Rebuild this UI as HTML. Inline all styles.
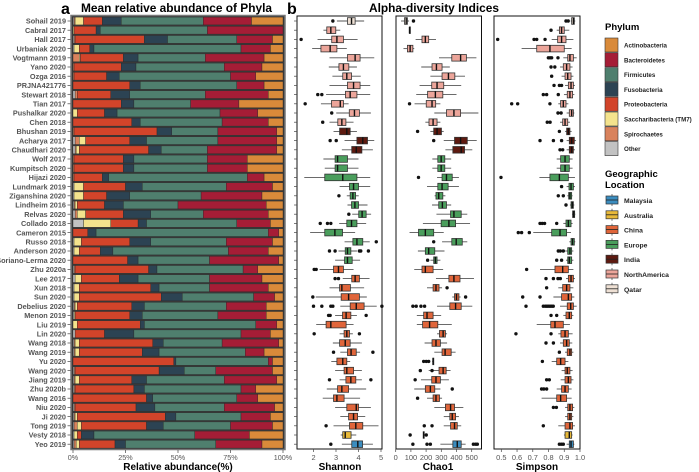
<!DOCTYPE html>
<html><head><meta charset="utf-8">
<style>
html,body{margin:0;padding:0;background:#fff;}
svg{display:block;font-family:"Liberation Sans",sans-serif;}
</style></head>
<body>
<svg id="chart" width="699" height="472" viewBox="0 0 699 472" xmlns="http://www.w3.org/2000/svg"></svg>
<script>
const studies=["Sohail 2019","Cabral 2017","Hall 2017","Urbaniak 2020","Vogtmann 2019","Yano 2020","Ozga 2016","PRJNA421776","Stewart 2018","Tian 2017","Pushalkar 2020","Chen 2018","Bhushan 2019","Acharya 2017","Chaudhari 2020","Wolf 2017","Kumpitsch 2020","Hijazi 2020","Lundmark 2019","Ziganshina 2020","Lindheim 2016","Relvas 2020","Collado 2018","Cameron 2015","Russo 2018","Anderson 2020","Soriano-Lerma 2020","Zhu 2020a","Lee 2017","Xun 2018","Sun 2020","Debelius 2020","Menon 2019","Liu 2019","Lin 2020","Wang 2018","Wang 2019","Yu 2020","Wang 2020","Jiang 2019","Zhu 2020b","Wang 2016","Niu 2020","Ji 2020","Tong 2019","Vesty 2018","Yeo 2019"];
const regions=["Qatar","NorthAmerica","NorthAmerica","NorthAmerica","NorthAmerica","NorthAmerica","NorthAmerica","NorthAmerica","NorthAmerica","NorthAmerica","NorthAmerica","NorthAmerica","India","India","India","Europe","Europe","Europe","Europe","Europe","Europe","Europe","Europe","Europe","Europe","Europe","Europe","China","China","China","China","China","China","China","China","China","China","China","China","China","China","China","China","China","China","Australia","Malaysia"];
// phylum percentages per study (stack order left→right)
const other=[0.5,0,0.5,0.5,0,0,0,0,1,0,0,0,0,1,1,0,0,0,0.5,0.5,0.5,1,5,0,0.5,0.5,0,0.5,1,0.5,0.5,0.5,0.5,0,1,0.5,0.5,0,0.5,0.5,0.5,0,0.5,0.5,0.5,0.5,0.5];
const spiro=[0.5,0,0.5,0,3,0.5,0.5,0,1,0,0,0,0.5,2,0.5,0.5,0.5,0.5,0,0,0.5,1,0,0,0,0,0,0.5,0,0,0,0.5,0,0,0,0.5,0.5,0,0.5,0.5,0.5,0,0.5,0.5,1.5,0,1];
const tm7=[4,0.5,0,2.5,0.5,0,0,0,0,0,2,0,0,3,1.5,0,0,0,4.5,4.5,1,4,13,0,3.5,2.5,0,0,3,2.5,2.5,1,0.5,2,0,2,2,0,0,2,0,0,0,1,2,1.5,1.5];
const proteo=[9,10.5,33,5,20.5,22.5,15.5,27,16,23,13,28,39.5,21,33,23.5,23.5,13.5,20,11,13,18,13,7,23,10,26,35,18,34,39,26,26,30,14,35,30,48,40,25,28,35,29,42,31,2,17];
const fuso=[9,2,11,2,7,7,6,5,9,6,6,4,7,8,6,5,5,3,8,11,9,13,4,4,10,6,5,4,9,4,10,6,6,2,14,5,8,1,12,7,5,3,9,5,8,6,5];
const firm=[39,51,33,70,32,42,53,46,36,27,49,39,22,34,22,35,35,66,40,34,26,25,43,82,36,55,34,41,34,24,34,39,36,53,51,28,41,44,15,37,46,40,33,31,32,48,43];
const bact=[23,36,17,14,28,18,12,13,30,23,18,22,28,28,33,19,19,8,22,29,42,31,16,5,22,19,33,7,25,28,10,19,23,10,14,27,9,2,27,25,7,10,24,14,20,26,22];
const actino=[15,0,5,6,9,10,13,9,7,21,12,7,3,3,3,17,17,9,5,10,8,7,6,2,5,7,2,12,10,7,4,8,8,3,6,2,9,5,5,3,13,12,4,6,5,16,10];
const phylaNames=["Other","Spirochaetes","Saccharibacteria (TM7)","Proteobacteria","Fusobacteria","Firmicutes","Bacteroidetes","Actinobacteria"];
const phylaColors={"Actinobacteria":"#d98a3a","Bacteroidetes":"#a51d36","Firmicutes":"#4f7f6e","Fusobacteria":"#2c4353","Proteobacteria":"#d2442a","Saccharibacteria (TM7)":"#f4e38d","Spirochaetes":"#d9825c","Other":"#c2c2c2"};
const regionColors={"Malaysia":"#3b8dbf","Australia":"#e8b93a","China":"#e0653a","Europe":"#4a9e5c","India":"#5e1a10","NorthAmerica":"#eca59a","Qatar":"#eee0d4"};
// Shannon
const shLo=[3.04,2.44,2.18,1.94,2.71,2.68,2.84,2.71,2.56,2.33,3.01,2.71,2.89,3.38,3.26,2.44,2.5,1.59,3.16,3.48,3.51,3.72,3.14,1.85,3.38,3.11,2.96,2.27,3.3,2.71,2.1,3.19,2.96,2.12,3.16,2.86,3.19,2.79,2.96,3.16,2.59,2.41,2.96,3.19,2.89,3.21,3.26];
const shQ1=[3.51,2.59,2.81,2.33,3.51,3.13,3.3,3.51,3.42,2.8,3.59,3.08,3.16,3.93,3.7,2.96,2.96,2.5,3.6,3.63,3.69,4.01,3.48,2.5,3.75,3.41,3.38,2.89,3.7,3.16,3.23,3.63,3.29,2.56,3.36,3.16,3.51,3.04,3.36,3.44,3.07,2.89,3.48,3.56,3.6,3.3,3.7];
const shMed=[3.69,2.77,3.04,2.74,3.85,3.33,3.48,3.78,3.63,3.19,3.82,3.26,3.48,4.19,3.9,3.07,3.07,3.3,3.78,3.75,3.84,4.16,3.69,2.95,3.93,3.51,3.51,3.11,3.85,3.26,3.56,3.9,3.45,2.77,3.48,3.41,3.67,3.3,3.48,3.66,3.26,3.04,3.9,3.78,3.88,3.41,3.97];
const shQ3=[3.85,2.99,3.33,3.04,4.07,3.57,3.69,4.07,3.93,3.33,4.04,3.44,3.63,4.4,4.15,3.51,3.51,3.93,4.0,3.87,4.0,4.34,3.93,3.29,4.19,3.66,3.72,3.33,4.04,3.64,4.04,4.25,3.66,3.45,3.6,3.63,3.9,3.48,3.78,3.88,3.56,3.36,4.0,3.96,4.19,3.67,4.18];
const shHi=[4.25,3.19,3.96,3.48,4.7,3.93,4.1,4.52,4.52,3.56,4.55,3.78,3.93,4.7,4.64,4.0,4.0,4.52,4.52,4.01,4.4,4.56,4.34,3.85,4.5,3.93,4.07,3.78,4.49,4.25,4.37,4.81,3.93,3.78,3.75,4.15,4.07,3.63,4.15,4.15,4.34,4.07,4.55,4.3,4.89,3.9,4.64];
const shOut=[[2.86],[],[1.45],[],[],[],[],[],[2.19,2.37],[1.63],[2.81],[2.41],[],[2.74,3.01],[],[],[],[],[],[3.13],[],[3.57],[2.3,2.62,2.77],[],[4.79],[2.71,2.96,4.04,4.1,4.44],[],[2.03,2.12],[2.96,3.11],[],[1.97],[2.0,2.37,2.77,2.86,5.04],[2.67,2.74,4.34],[],[2.03,4.04],[],[2.89,4.64],[],[],[2.71,4.55],[],[],[],[],[2.56],[],[2.77]];
// Chao1
const chLo=[35,89,131,51,285,168,228,157,135,124,254,195,228,316,327,241,241,272,206,256,239,268,179,91,305,146,228,122,265,206,372,272,139,139,272,190,254,240,217,166,122,206,254,316,316,180,294];
const chQ1=[58,90,173,77,369,239,305,237,210,201,334,219,250,387,376,277,277,305,277,265,283,361,299,150,369,195,250,173,350,246,387,356,184,177,288,239,305,244,285,237,195,246,327,356,361,181,376];
const chMed=[69,91,195,95,427,268,347,272,261,239,383,246,272,427,431,299,299,334,305,283,307,383,350,195,398,217,261,195,383,265,400,394,206,223,312,265,325,246,312,265,228,265,361,372,387,184,405];
const chQ3=[77,92,217,113,465,305,389,316,310,263,427,272,301,471,453,323,323,372,345,310,334,431,394,250,438,257,272,246,423,285,416,431,246,277,327,294,365,248,332,294,257,288,387,394,405,186,431];
const chHi=[88,93,265,122,531,356,456,431,400,294,544,294,316,533,504,365,365,416,416,327,365,471,489,316,471,321,294,312,515,305,427,504,299,369,338,338,394,250,361,350,294,305,445,416,431,188,460];
const chOut=[[117],[],[],[],[],[],[],[],[],[91],[],[],[144],[250],[],[],[],[150],[],[],[],[],[],[],[250],[],[210],[],[],[338],[460],[113,135,166,190],[],[],[],[],[],[184,201,217],[162,239],[128],[372],[144],[],[],[188,239],[95,201],[113,206,228,511,526,537]];
// Simpson
const siLo=[0.941,0.852,0.82,0.629,0.894,0.873,0.883,0.905,0.898,0.862,0.915,0.873,0.905,0.915,0.915,0.852,0.852,0.742,0.915,0.919,0.936,0.949,0.894,0.703,0.932,0.905,0.911,0.746,0.911,0.862,0.831,0.873,0.894,0.725,0.862,0.873,0.905,0.82,0.883,0.877,0.852,0.756,0.905,0.905,0.862,0.898,0.915];
const siQ1=[0.947,0.869,0.858,0.725,0.922,0.894,0.905,0.926,0.919,0.877,0.932,0.89,0.915,0.932,0.932,0.877,0.877,0.809,0.93,0.928,0.943,0.953,0.911,0.82,0.943,0.922,0.922,0.841,0.926,0.89,0.883,0.919,0.911,0.814,0.879,0.894,0.919,0.852,0.905,0.905,0.883,0.852,0.922,0.922,0.905,0.905,0.932];
const siMed=[0.958,0.883,0.883,0.809,0.936,0.915,0.922,0.943,0.936,0.894,0.947,0.905,0.926,0.947,0.947,0.905,0.905,0.869,0.943,0.936,0.951,0.96,0.926,0.873,0.953,0.936,0.932,0.89,0.943,0.915,0.926,0.941,0.932,0.841,0.905,0.915,0.936,0.877,0.919,0.926,0.905,0.877,0.936,0.936,0.936,0.932,0.943];
const siQ3=[0.964,0.9,0.911,0.9,0.958,0.936,0.943,0.958,0.953,0.911,0.958,0.922,0.936,0.964,0.958,0.932,0.932,0.926,0.958,0.947,0.958,0.966,0.943,0.915,0.964,0.947,0.947,0.926,0.958,0.936,0.947,0.958,0.947,0.894,0.926,0.932,0.947,0.905,0.936,0.943,0.926,0.915,0.953,0.947,0.953,0.947,0.958];
const siHi=[0.97,0.932,0.958,0.947,0.979,0.953,0.958,0.968,0.964,0.926,0.964,0.936,0.947,0.975,0.968,0.953,0.953,0.968,0.968,0.953,0.964,0.97,0.953,0.943,0.97,0.958,0.958,0.958,0.968,0.958,0.964,0.979,0.958,0.936,0.953,0.951,0.958,0.926,0.953,0.958,0.947,0.947,0.964,0.958,0.968,0.953,0.964];
const siOut=[[0.911,0.925],[0.816],[0.477,0.708,0.725,0.778],[],[0.799,0.81,0.82,0.86],[0.816,0.84],[0.82],[0.835,0.869,0.883],[0.767,0.788,0.862],[0.566,0.604,0.809],[0.86,0.88],[0.792,0.81],[0.869],[0.746,0.831,0.883],[0.873,0.89],[],[],[0.498],[0.883],[0.862,0.894],[0.911],[],[0.746,0.76,0.775,0.852],[0.608,0.629,0.678],[],[0.862,0.875,0.894],[0.852,0.883],[0.661],[0.784,0.831,0.86,0.875],[0.788],[0.636,0.746],[0.657,0.767,0.78,0.79,0.8,0.81,0.82,0.83],[0.816,0.852],[],[0.593,0.816],[0.784,0.831],[0.869],[0.761],[],[0.788,0.805],[0.756,0.77,0.788],[],[0.831,0.85],[],[0.767],[],[0.869,0.882,0.894]];
const pctTicks=[0,25,50,75,100];
const shTicks=[2,3,4,5];
const chTicks=[0,100,200,300,400,500];
const siTicks=[0.5,0.6,0.7,0.8,0.9,1.0];

const NS="http://www.w3.org/2000/svg";
const svg=document.getElementById('chart');
function mk(tag,attrs,parent){const e=document.createElementNS(NS,tag);for(const k in attrs)e.setAttribute(k,attrs[k]);(parent||svg).appendChild(e);return e;}
function txt(s,attrs,parent){const e=mk('text',attrs,parent);e.textContent=s;return e;}
const rowY=i=>21+i*9.2;
const xPct=v=>73+v*2.1;
const xSh=v=>313.5+(v-2)*22.5;
const xCh=v=>395.7+v*0.152;
const xSi=v=>501.3+(v-0.5)*157.4;

// titles
let t;
t=txt('a',{x:61,y:14,'font-size':16,'font-weight':'bold',fill:'#000'});

t=txt('Mean relative abundance of Phyla',{x:81,y:12,'font-size':12,'font-weight':'bold',textLength:191,lengthAdjust:'spacingAndGlyphs',fill:'#000'});

t=txt('b',{x:287,y:14,'font-size':16,'font-weight':'bold',fill:'#000'});

t=txt('Alpha-diversity Indices',{x:369,y:12,'font-size':11.5,'font-weight':'bold',textLength:130,lengthAdjust:'spacingAndGlyphs',fill:'#000'});


// bar panel
const barG=mk('g',{});

mk('rect',{x:71,y:15.5,width:214,height:434,fill:'#3a3a3a',stroke:'#777','stroke-width':1.5},barG);
const series=[other,spiro,tm7,proteo,fuso,firm,bact,actino];
studies.forEach((s,i)=>{
  const y=rowY(i);
  let acc=0;
  series.forEach((arr,k)=>{
    const v=arr[i]; if(v<=0)return;
    const r=mk('rect',{x:xPct(acc),y:y-3.9,width:xPct(acc+v)-xPct(acc),height:7.8,fill:phylaColors[phylaNames[k]],stroke:'#2a2a2a','stroke-width':0.4},barG);
    
    
    acc+=v;
  });
  const l=txt(s,{x:66,y:y+2.7,'font-size':7.3,'font-weight':'bold','text-anchor':'end',fill:'#555'});
  
  
  mk('line',{x1:67.5,x2:70.5,y1:y,y2:y,stroke:'#444','stroke-width':0.7});
});
pctTicks.forEach(v=>{
  mk('line',{x1:xPct(v),x2:xPct(v),y1:450,y2:453,stroke:'#444','stroke-width':0.7});
  const l=txt(v+'%',{x:xPct(v),y:460,'font-size':7.2,'text-anchor':'middle',fill:'#555'});
  
  
});
t=txt('Relative abundance(%)',{x:178,y:470,'font-size':10,'font-weight':'bold','text-anchor':'middle',fill:'#000'});


// box panels
function boxPanel(name,x0,x1,sx,lo,q1,med,q3,hi,outs,ticks,fmt,title,titleX,leftTicks){
  const g=mk('g',{});
  
  
  mk('rect',{x:x0,y:16,width:x1-x0,height:433,fill:'#fff',stroke:'#111','stroke-width':1},g);
  studies.forEach((s,i)=>{
    const y=rowY(i);
    if(leftTicks) mk('line',{x1:x0-3,x2:x0,y1:y,y2:y,stroke:'#444','stroke-width':0.7},g);
    mk('line',{x1:sx(lo[i]),x2:sx(hi[i]),y1:y,y2:y,stroke:'#555','stroke-width':0.9},g);
    const b=mk('rect',{x:sx(q1[i]),y:y-3.3,width:Math.max(1,sx(q3[i])-sx(q1[i])),height:6.6,fill:regionColors[regions[i]],stroke:'#333','stroke-width':0.8},g);
    
    
    mk('line',{x1:sx(med[i]),x2:sx(med[i]),y1:y-3.3,y2:y+3.3,stroke:'#111','stroke-width':1.4},g);
    outs[i].forEach(o=>{
      const c=mk('circle',{cx:sx(o),cy:y,r:1.7,fill:'#111'},g);
      
      
    });
  });
  ticks.forEach(v=>{
    mk('line',{x1:sx(v),x2:sx(v),y1:449,y2:452,stroke:'#444','stroke-width':0.7},g);
    const l=txt(fmt(v),{x:sx(v),y:460,'font-size':7.4,'text-anchor':'middle',fill:'#555'},g);
    
    
  });
  const tt=txt(title,{x:titleX,y:470,'font-size':10,'font-weight':'bold','text-anchor':'middle',fill:'#000'},g);
  
  
}
boxPanel('shannon',297,382,xSh,shLo,shQ1,shMed,shQ3,shHi,shOut,shTicks,v=>String(v),'Shannon',340,true);
boxPanel('chao1',396,481.5,xCh,chLo,chQ1,chMed,chQ3,chHi,chOut,chTicks,v=>String(v),'Chao1',438,false);
boxPanel('simpson',494,580,xSi,siLo,siQ1,siMed,siQ3,siHi,siOut,siTicks,v=>v.toFixed(1),'Simpson',537,false);

// legends
const lg=mk('g',{});

t=txt('Phylum',{x:605,y:30,'font-size':9.5,'font-weight':'bold',fill:'#000'},lg);

const legPhyla=["Actinobacteria","Bacteroidetes","Firmicutes","Fusobacteria","Proteobacteria","Saccharibacteria (TM7)","Spirochaetes","Other"];
legPhyla.forEach((p,k)=>{
  const y=38+k*14.8;
  const r=mk('rect',{x:605,y:y,width:13,height:14,fill:phylaColors[p],stroke:'#333','stroke-width':0.6},lg);
  
  
  const l=txt(p,{x:624,y:y+9.5,'font-size':6.2,'font-weight':'bold',fill:'#222'},lg);
  
  
});
t=txt('Geographic',{x:605,y:177,'font-size':9.5,'font-weight':'bold',fill:'#000'},lg);

t=txt('Location',{x:605,y:188,'font-size':9.5,'font-weight':'bold',fill:'#000'},lg);

const legRegions=["Malaysia","Australia","China","Europe","India","NorthAmerica","Qatar"];
legRegions.forEach((p,k)=>{
  const y=200+k*14.8;
  mk('line',{x1:612,x2:612,y1:y-6,y2:y+6,stroke:'#555','stroke-width':0.8},lg);
  const r=mk('rect',{x:606,y:y-4,width:12,height:8,fill:regionColors[p],stroke:'#333','stroke-width':0.7},lg);
  
  
  mk('line',{x1:606,x2:618,y1:y,y2:y,stroke:'#222','stroke-width':0.8},lg);
  const l=txt(p,{x:624,y:y+3,'font-size':6.8,'font-weight':'bold',fill:'#222'},lg);
  
  
});
</script>
</body></html>
